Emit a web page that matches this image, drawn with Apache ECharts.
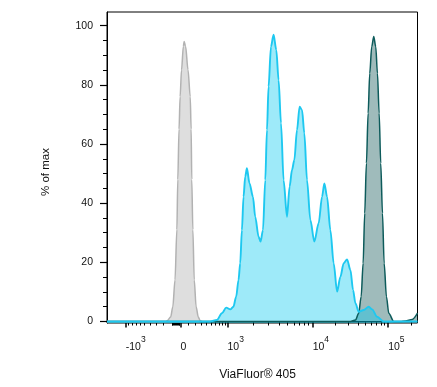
<!DOCTYPE html>
<html><head><meta charset="utf-8">
<script src="https://cdn.jsdelivr.net/npm/echarts@6/dist/echarts.min.js"></script>
<style>html,body{margin:0;padding:0;background:#fff}#c{width:437px;height:387px}</style>
</head><body><div id="c"></div>
<script>
// ---- text ----
const xTitle = 'ViaFluor® 405';
const yTitle = '% of max';

// ---- x axis (biexponential scale, fluorescence units) ----
const xMajorTicks = [-1000, 0, 1000, 10000, 100000];
const xMajorBase  = ['-10', '0', '10', '10', '10'];
const xMajorSup   = ['3', '', '3', '4', '5'];
const xMinorTicks = [-900,-800,-700,-600,-500,-400,-300,-200,-100,
  -90,-80,-70,-60,-50,-40,-30,-20,-10,
  100,200,300,400,500,600,700,800,900,
  2000,3000,4000,5000,6000,7000,8000,9000,
  20000,30000,40000,50000,60000,70000,80000,90000,200000];

// ---- y axis ----
const yMajorTicks = [0, 20, 40, 60, 80, 100];
const yMinorTicks = [5,10,15,25,30,35,45,50,55,65,70,75,85,90,95];

// ---- histogram data: x in display channels (0-1000), y in % of max ----
const grayCh  = [0, 190, 194, 205, 212, 219, 225, 228, 232, 235.5, 240, 246, 248.5, 253, 261, 268, 271, 273, 276.5, 281, 287, 294, 300, 306];
const grayPct = [0, 0, 0.3, 1.5, 5, 14, 31, 48, 65, 76, 85, 93, 94.6, 93, 85, 76, 65, 48, 31, 14, 5, 1.5, 0.3, 0];

const tealCh  = [0, 784, 800, 810.7, 818.5, 824.9, 830, 835.5, 841, 846.2, 852.6, 859.1, 865.5, 871, 876.5, 881.6, 887.2, 892.6, 900, 907.5, 923.6, 945, 961, 983, 1000];
const tealPct = [0, 0, 0.5, 2.8, 8.4, 19.7, 36.6, 53.5, 70.4, 83.9, 92.9, 96.3, 92.9, 83.9, 70.4, 53.5, 36.6, 19.7, 8.4, 2.8, 0, 0, 0.2, 0.7, 2.8];

const cyanCh  = [0, 332, 354, 370, 384, 397, 407, 416, 423.5, 429, 434.5, 439.7, 445.2, 450.6, 459, 470, 477.4, 488.1, 494.5, 502.3, 509.7, 515.2, 520.3, 528.1, 536.5, 545.2, 552.6, 560.4, 568.8, 579.7, 588.1, 595.8, 603.3, 611.9, 620.3, 628.1, 635.5, 644.2, 654.9, 667.8, 681.6, 692.6, 700, 708.7, 719.4, 730, 741, 751.6, 762.3, 773.3, 783.9, 792.6, 800, 810.7, 826.8, 842.9, 853.9, 870, 891, 913, 1000];
const cyanPct = [0, 0, 0.5, 2.8, 4.7, 4.1, 5.0, 8.4, 14.0, 19.7, 30.9, 42.2, 49.0, 51.8, 46.7, 42.2, 35.4, 28.7, 27.0, 30.9, 47.8, 64.7, 79.4, 92.9, 96.9, 91.8, 81.6, 67.0, 47.8, 35.4, 45.6, 51.2, 54.6, 64.7, 72.6, 71.5, 63.6, 47.8, 34.3, 27.0, 33.2, 42.2, 46.7, 42.2, 30.9, 19.7, 10.1, 15.1, 19.7, 21.0, 17.4, 10.6, 6.2, 3.3, 3.9, 5.0, 4.1, 1.6, 0, 0, 0];

// biexponential-like transform: fluorescence value -> display channel
function toChannel(v) {
  if (v >= 1e4) return 662.3 + (Math.log10(v) - 4) * 243.2;
  if (v >= 1e3) return 388.1 + (Math.log10(v) - 3) * 274.2;
  if (v >= 0) return 237.1 + 83.9 * Math.asinh(v / 340);
  return 237.1 - 98.25 * Math.asinh(-v / 340);
}
const zip = (a, b) => a.map((v, i) => [v, b[i]]);

const FONT = '"Liberation Sans", Arial, Helvetica, sans-serif';
const majorCh = xMajorTicks.map(toChannel);
const minorCh = xMinorTicks.map(toChannel).filter(c => c > 0 && c < 1000);

const chart = echarts.init(document.getElementById('c'), null, {renderer: 'canvas'});
const X_MIN = 0, X_MAX = 1000, Y_MIN = -0.5, Y_MAX = 104.6;
const hide = {show: false};
chart.setOption({
  animation: false,
  backgroundColor: '#fff',
  grid: {left: 107, right: 19.5, top: 12, bottom: 64, show: true, borderColor: '#000', borderWidth: 1, outerBoundsMode: 'none', containLabel: false},
  xAxis: [
    {type: 'value', min: X_MIN, max: X_MAX, position: 'bottom',
     axisLine: {show: true, lineStyle: {color: '#000', width: 1}},
     axisTick: {show: true, length: 6, lineStyle: {color: '#000', width: 1.5}, customValues: majorCh},
     splitLine: hide,
     axisLabel: {show: true, customValues: majorCh, align: 'left', margin: 12,
       formatter: function (val) {
         let idx = 0, best = 1e9;
         majorCh.forEach((c, i) => { if (Math.abs(c - val) < best) { best = Math.abs(c - val); idx = i; } });
         return '{b|' + xMajorBase[idx] + '}' + (xMajorSup[idx] ? '{s|' + xMajorSup[idx] + '}' : '');
       },
       rich: {
         b: {fontSize: 10.5, fontFamily: FONT, color: '#111', lineHeight: 17.5, verticalAlign: 'bottom'},
         s: {fontSize: 8.5, fontFamily: FONT, color: '#111', lineHeight: 9, verticalAlign: 'top'}
       }}},
    {type: 'value', min: X_MIN, max: X_MAX, position: 'bottom',
     axisLine: hide, splitLine: hide, axisLabel: hide,
     axisTick: {show: true, length: 4, lineStyle: {color: '#000', width: 1}, customValues: minorCh}}
  ],
  yAxis: [
    {type: 'value', min: Y_MIN, max: Y_MAX, position: 'left',
     axisLine: {show: true, lineStyle: {color: '#000', width: 1}},
     axisTick: {show: true, length: 7, lineStyle: {color: '#000', width: 1.2}, customValues: yMajorTicks},
     splitLine: hide,
     axisLabel: {show: true, customValues: yMajorTicks, margin: 14, fontSize: 10.5, fontFamily: FONT, color: '#111'}},
    {type: 'value', min: Y_MIN, max: Y_MAX, position: 'left',
     axisLine: hide, splitLine: hide, axisLabel: hide,
     axisTick: {show: true, length: 4, lineStyle: {color: '#000', width: 1}, customValues: yMinorTicks}}
  ],
  graphic: [
    {type: 'text', x: 257.5, y: 375, style: {text: xTitle, font: '12px ' + FONT, fill: '#111', textAlign: 'center', textVerticalAlign: 'middle'}},
    {type: 'text', x: 46, y: 172, rotation: Math.PI / 2, style: {text: yTitle, font: '11.5px ' + FONT, fill: '#111', textAlign: 'center', textVerticalAlign: 'middle'}}
  ],
  series: [
    {name: 'control', type: 'line', data: zip(grayCh, grayPct), showSymbol: false, smooth: 0.3, smoothMonotone: 'x',
     lineStyle: {color: '#b2b2b2', width: 1.5}, areaStyle: {color: '#dedede', opacity: 1, origin: 'start'}},
    {name: 'parent', type: 'line', data: zip(tealCh, tealPct), showSymbol: false, smooth: 0.3, smoothMonotone: 'x',
     lineStyle: {color: '#0d5b5b', width: 1.5}, areaStyle: {color: 'rgba(15,85,85,0.4)', opacity: 1, origin: 'start'}},
    {name: 'proliferation', type: 'line', data: zip(cyanCh, cyanPct), showSymbol: false, smooth: 0.3, smoothMonotone: 'x',
     lineStyle: {color: '#1ec8f0', width: 1.9}, areaStyle: {color: 'rgba(0,200,240,0.38)', opacity: 1, origin: 'start'}}
  ]
});
</script></body></html>
